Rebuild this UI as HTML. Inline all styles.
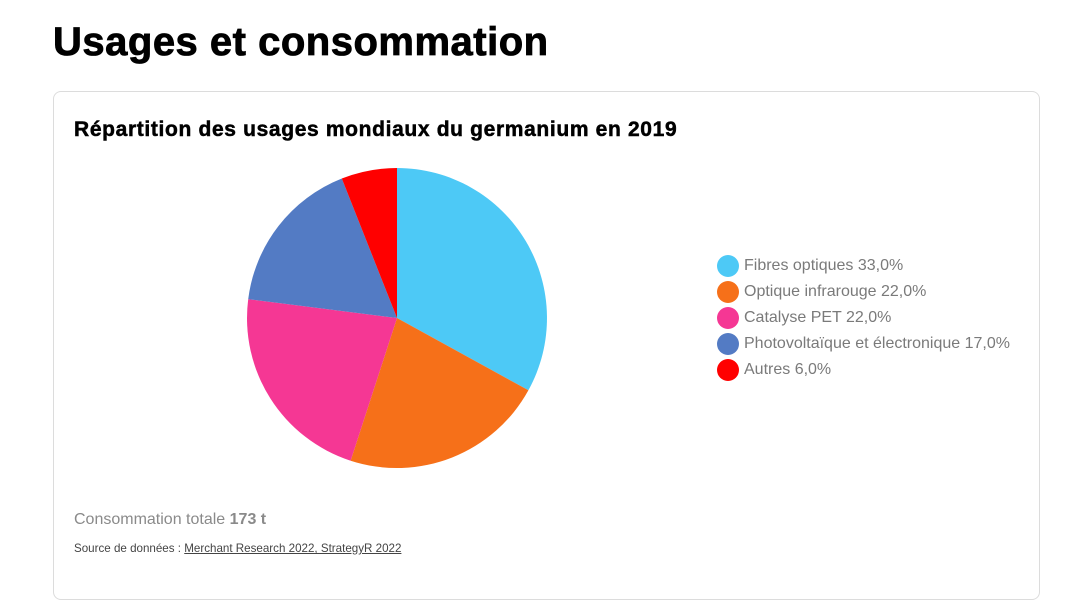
<!DOCTYPE html>
<html><head><meta charset="utf-8"><style>
body{margin:0;width:1076px;height:612px;background:#fff;position:relative;font-family:"Liberation Sans",sans-serif;overflow:hidden}
.h1{position:absolute;left:53px;top:20px;font-size:40px;font-weight:900;color:#000;letter-spacing:0.5px;-webkit-text-stroke:0.8px #000}
.card{position:absolute;left:53px;top:91px;width:987px;height:509px;border:1px solid #dcdcdc;border-radius:8px;box-sizing:border-box}
.h2{position:absolute;left:74px;top:118px;font-size:21px;font-weight:bold;color:#000;letter-spacing:0.65px;-webkit-text-stroke:0.5px #000}
.leg{position:absolute;left:717px;font-size:16px;color:#7a7a7a;height:22px;line-height:22px}
.leg i{display:inline-block;width:22px;height:22px;border-radius:50%;vertical-align:top;margin-right:5px}
.tot{position:absolute;left:74px;top:511px;font-size:16px;color:#8a8a8a}
.src{position:absolute;left:74px;top:542px;font-size:11.6px;color:#444}
.src u{color:#444}
</style></head><body>
<div class="h1">Usages et consommation</div>
<div class="card"></div>
<div class="h2">Répartition des usages mondiaux du germanium en 2019</div>
<svg style="position:absolute;left:0;top:0" width="1076" height="612">
<path d="M397,318 L397,168 A150,150 0 0 1 528.4,390.3 Z" fill="#4dc9f6"/>
<path d="M397,318 L528.4,390.3 A150,150 0 0 1 350.6,460.7 Z" fill="#f67019"/>
<path d="M397,318 L350.6,460.7 A150,150 0 0 1 248.2,299.2 Z" fill="#f53794"/>
<path d="M397,318 L248.2,299.2 A150,150 0 0 1 341.8,178.5 Z" fill="#537bc4"/>
<path d="M397,318 L341.8,178.5 A150,150 0 0 1 397,168 Z" fill="#ff0000"/>
</svg>
<div class="leg" style="top:255px"><i style="background:#4dc9f6"></i>Fibres optiques 33,0%</div>
<div class="leg" style="top:281px"><i style="background:#f67019"></i>Optique infrarouge 22,0%</div>
<div class="leg" style="top:307px"><i style="background:#f53794"></i>Catalyse PET 22,0%</div>
<div class="leg" style="top:333px"><i style="background:#537bc4"></i>Photovoltaïque et électronique 17,0%</div>
<div class="leg" style="top:359px"><i style="background:#ff0000"></i>Autres 6,0%</div>
<div class="tot">Consommation totale <b>173 t</b></div>
<div class="src">Source de données : <u>Merchant Research 2022, StrategyR 2022</u></div>
</body></html>
